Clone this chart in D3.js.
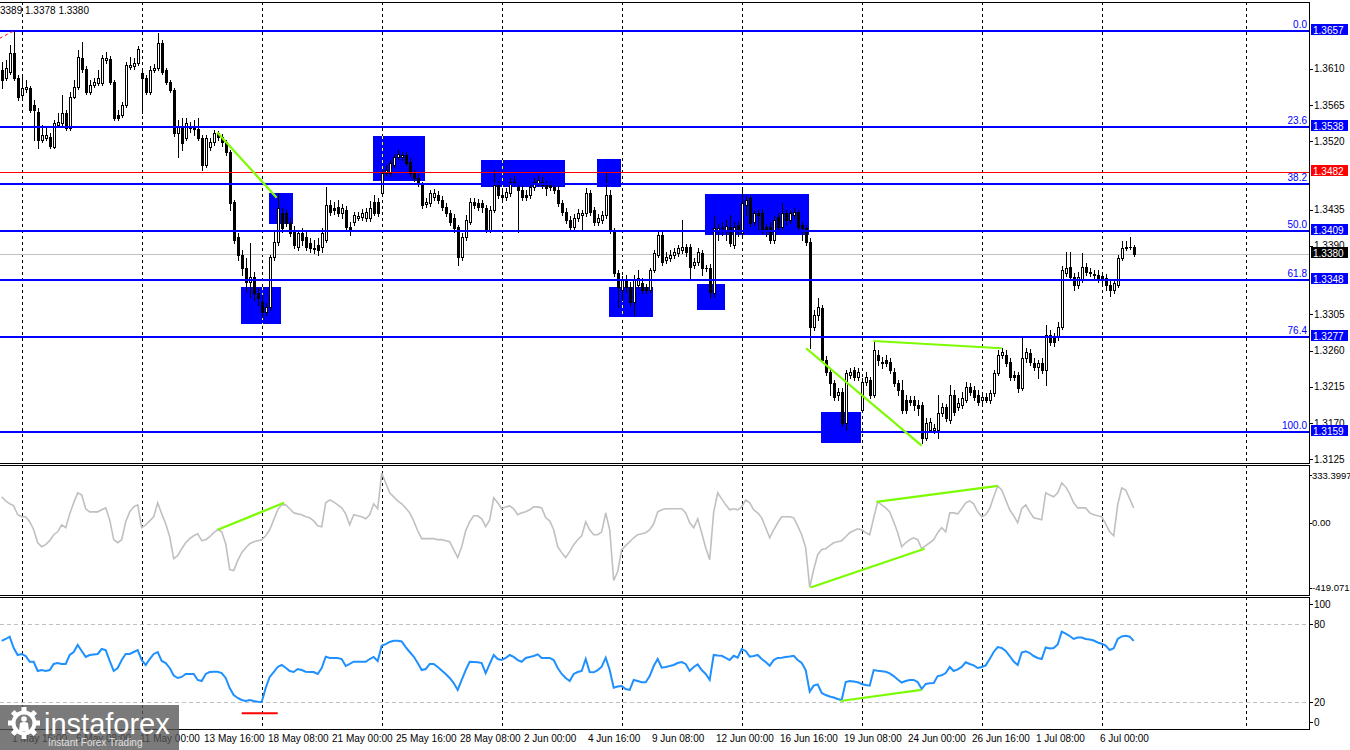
<!DOCTYPE html>
<html>
<head>
<meta charset="utf-8">
<script src="https://cdn.jsdelivr.net/npm/d3@7/dist/d3.min.js"></script>
<style>
html,body{margin:0;padding:0;background:#fff;overflow:hidden;}
svg{display:block;}
text{font-family:"Liberation Sans",Arial,sans-serif;}
</style>
</head>
<body>
<svg id="chart" width="1350" height="750"></svg>
<script>
// ---------------- DATA ----------------
const open = [
1.3609,1.3599,1.3606,1.3630,1.3599,1.3578,1.3585,1.3586,1.3565,1.3556,
1.3522,1.3524,1.3525,1.3513,1.3540,1.3543,1.3555,1.3537,1.3575,1.3587,
1.3623,1.3610,1.3581,1.3590,1.3592,1.3592,1.3621,1.3622,1.3594,1.3553,
1.3553,1.3565,1.3612,1.3614,1.3617,1.3605,1.3599,1.3581,1.3609,1.3611,
1.3642,1.3609,1.3594,1.3584,1.3530,1.3538,1.3524,1.3537,1.3537,1.3535,
1.3524,1.3491,1.3513,1.3519,1.3530,1.3525,1.3519,1.3507,1.3445,1.3401,
1.3379,1.3363,1.3345,1.3351,1.3332,1.3320,1.3308,1.3314,1.3376,1.3395,
1.3431,1.3431,1.3419,1.3410,1.3389,1.3406,1.3401,1.3394,1.3387,1.3391,
1.3389,1.3397,1.3441,1.3437,1.3438,1.3431,1.3435,1.3414,1.3420,1.3425,
1.3426,1.3425,1.3425,1.3445,1.3445,1.3456,1.3481,1.3481,1.3491,1.3500,
1.3500,1.3503,1.3494,1.3481,1.3474,1.3466,1.3442,1.3443,1.3451,1.3453,
1.3447,1.3438,1.3431,1.3425,1.3414,1.3376,1.3401,1.3420,1.3445,1.3443,
1.3443,1.3437,1.3410,1.3435,1.3466,1.3453,1.3451,1.3456,1.3469,1.3463,
1.3460,1.3453,1.3453,1.3463,1.3468,1.3469,1.3466,1.3466,1.3463,1.3460,
1.3443,1.3432,1.3422,1.3414,1.3425,1.3428,1.3431,1.3456,1.3435,1.3420,
1.3422,1.3428,1.3453,1.3410,1.3356,1.3335,1.3348,1.3339,1.3320,1.3342,
1.3344,1.3339,1.3335,1.3360,1.3379,1.3404,1.3373,1.3375,1.3379,1.3381,
1.3385,1.3389,1.3389,1.3366,1.3370,1.3381,1.3363,1.3363,1.3332,1.3410,
1.3412,1.3410,1.3414,1.3391,1.3416,1.3406,1.3441,1.3450,1.3420,1.3431,
1.3431,1.3414,1.3414,1.3397,1.3426,1.3414,1.3431,1.3422,1.3428,1.3432,
1.3416,1.3412,1.3395,1.3289,1.3304,1.3313,1.3248,1.3233,1.3220,1.3205,
1.3209,1.3170,1.3230,1.3236,1.3227,1.3186,1.3221,1.3224,1.3205,1.3255,
1.3245,1.3248,1.3246,1.3233,1.3220,1.3211,1.3199,1.3199,1.3199,1.3192,
1.3192,1.3152,1.3161,1.3161,1.3161,1.3183,1.3190,1.3174,1.3205,1.3190,
1.3192,1.3199,1.3215,1.3211,1.3205,1.3199,1.3202,1.3199,1.3207,1.3232,
1.3255,1.3255,1.3246,1.3230,1.3230,1.3214,1.3251,1.3257,1.3245,1.3240,
1.3245,1.3236,1.3279,1.3276,1.3277,1.3289,1.3356,1.3364,1.3351,1.3342,
1.3348,1.3364,1.3358,1.3355,1.3354,1.3353,1.3350,1.3342,1.3335,1.3342,
1.3375,1.3387,1.3389,1.3389];
const high = [
1.3619,1.3621,1.3640,1.3657,1.3602,1.3601,1.3596,1.3589,1.3571,1.3561,
1.3540,1.3538,1.3530,1.3546,1.3555,1.3578,1.3559,1.3581,1.3596,1.3633,
1.3643,1.3614,1.3596,1.3599,1.3609,1.3627,1.3631,1.3626,1.3596,1.3559,
1.3569,1.3619,1.3625,1.3623,1.3638,1.3609,1.3602,1.3614,1.3616,1.3655,
1.3646,1.3611,1.3596,1.3586,1.3546,1.3549,1.3549,1.3544,1.3546,1.3549,
1.3528,1.3528,1.3524,1.3534,1.3533,1.3529,1.3522,1.3509,1.3447,1.3406,
1.3385,1.3375,1.3394,1.3358,1.3338,1.3329,1.3319,1.3379,1.3407,1.3456,
1.3437,1.3435,1.3425,1.3415,1.3410,1.3412,1.3407,1.3400,1.3397,1.3400,
1.3412,1.3463,1.3447,1.3445,1.3447,1.3442,1.3440,1.3420,1.3432,1.3432,
1.3436,1.3437,1.3446,1.3453,1.3450,1.3484,1.3491,1.3497,1.3504,1.3509,
1.3507,1.3507,1.3499,1.3484,1.3479,1.3469,1.3450,1.3460,1.3461,1.3458,
1.3452,1.3443,1.3435,1.3430,1.3416,1.3406,1.3428,1.3450,1.3450,1.3448,
1.3447,1.3441,1.3440,1.3484,1.3471,1.3460,1.3462,1.3474,1.3477,1.3468,
1.3464,1.3460,1.3468,1.3474,1.3478,1.3476,1.3471,1.3469,1.3468,1.3464,
1.3447,1.3437,1.3427,1.3430,1.3436,1.3435,1.3462,1.3460,1.3438,1.3430,
1.3433,1.3482,1.3460,1.3412,1.3360,1.3353,1.3354,1.3345,1.3354,1.3360,
1.3350,1.3343,1.3363,1.3385,1.3407,1.3407,1.3382,1.3385,1.3387,1.3391,
1.3422,1.3392,1.3392,1.3375,1.3387,1.3385,1.3366,1.3368,1.3427,1.3417,
1.3420,1.3422,1.3428,1.3420,1.3421,1.3463,1.3452,1.3453,1.3435,1.3435,
1.3436,1.3417,1.3420,1.3427,1.3431,1.3443,1.3435,1.3435,1.3437,1.3435,
1.3420,1.3416,1.3400,1.3310,1.3325,1.3317,1.3253,1.3238,1.3224,1.3214,
1.3214,1.3236,1.3238,1.3240,1.3238,1.3226,1.3233,1.3227,1.3272,1.3261,
1.3252,1.3255,1.3251,1.3238,1.3224,1.3224,1.3205,1.3204,1.3204,1.3199,
1.3196,1.3176,1.3176,1.3169,1.3205,1.3195,1.3194,1.3217,1.3211,1.3201,
1.3209,1.3221,1.3220,1.3216,1.3211,1.3209,1.3207,1.3211,1.3236,1.3261,
1.3263,1.3261,1.3251,1.3235,1.3233,1.3276,1.3263,1.3262,1.3251,1.3248,
1.3251,1.3292,1.3286,1.3282,1.3296,1.3365,1.3382,1.3382,1.3356,1.3358,
1.3381,1.3369,1.3363,1.3360,1.3360,1.3358,1.3355,1.3346,1.3348,1.3379,
1.3396,1.3396,1.3401,1.3391];
const low = [
1.3586,1.3596,1.3604,1.3596,1.3571,1.3575,1.3581,1.3556,1.3522,1.3512,
1.3519,1.3522,1.3512,1.3512,1.3538,1.3540,1.3534,1.3534,1.3574,1.3585,
1.3606,1.3579,1.3579,1.3587,1.3590,1.3590,1.3617,1.3591,1.3546,1.3546,
1.3550,1.3563,1.3610,1.3610,1.3615,1.3555,1.3579,1.3579,1.3606,1.3609,
1.3604,1.3591,1.3581,1.3527,1.3500,1.3509,1.3522,1.3532,1.3528,1.3522,
1.3484,1.3488,1.3509,1.3515,1.3522,1.3514,1.3503,1.3435,1.3394,1.3373,
1.3354,1.3333,1.3327,1.3323,1.3317,1.3302,1.3304,1.3310,1.3373,1.3391,
1.3407,1.3415,1.3402,1.3387,1.3385,1.3391,1.3385,1.3382,1.3381,1.3379,
1.3382,1.3395,1.3428,1.3430,1.3427,1.3425,1.3410,1.3404,1.3416,1.3422,
1.3422,1.3421,1.3421,1.3428,1.3427,1.3452,1.3478,1.3477,1.3488,1.3498,
1.3497,1.3491,1.3477,1.3471,1.3464,1.3437,1.3438,1.3440,1.3447,1.3443,
1.3435,1.3427,1.3416,1.3407,1.3366,1.3373,1.3397,1.3417,1.3437,1.3435,
1.3432,1.3407,1.3407,1.3432,1.3450,1.3447,1.3447,1.3452,1.3464,1.3407,
1.3447,1.3447,1.3450,1.3460,1.3464,1.3462,1.3453,1.3460,1.3456,1.3440,
1.3428,1.3419,1.3410,1.3410,1.3421,1.3410,1.3427,1.3428,1.3416,1.3416,
1.3419,1.3425,1.3406,1.3353,1.3314,1.3323,1.3333,1.3315,1.3304,1.3338,
1.3332,1.3332,1.3333,1.3358,1.3376,1.3366,1.3369,1.3371,1.3375,1.3378,
1.3381,1.3378,1.3350,1.3363,1.3366,1.3354,1.3359,1.3325,1.3328,1.3397,
1.3404,1.3397,1.3390,1.3387,1.3402,1.3402,1.3428,1.3415,1.3416,1.3410,
1.3406,1.3402,1.3394,1.3394,1.3410,1.3410,1.3417,1.3419,1.3425,1.3410,
1.3397,1.3391,1.3263,1.3286,1.3298,1.3246,1.3230,1.3205,1.3199,1.3199,
1.3166,1.3161,1.3226,1.3224,1.3224,1.3184,1.3217,1.3201,1.3202,1.3242,
1.3238,1.3241,1.3232,1.3216,1.3205,1.3183,1.3183,1.3192,1.3186,1.3180,
1.3145,1.3149,1.3159,1.3158,1.3152,1.3179,1.3173,1.3170,1.3180,1.3186,
1.3189,1.3196,1.3205,1.3199,1.3192,1.3195,1.3196,1.3195,1.3204,1.3230,
1.3251,1.3241,1.3224,1.3224,1.3209,1.3211,1.3246,1.3242,1.3236,1.3226,
1.3232,1.3217,1.3267,1.3266,1.3273,1.3287,1.3353,1.3348,1.3335,1.3338,
1.3345,1.3354,1.3353,1.3350,1.3345,1.3344,1.3335,1.3328,1.3332,1.3339,
1.3373,1.3385,1.3386,1.3378];
const close = [
1.3596,1.3611,1.3630,1.3599,1.3575,1.3586,1.3587,1.3559,1.3559,1.3522,
1.3528,1.3528,1.3514,1.3543,1.3544,1.3555,1.3537,1.3575,1.3587,1.3625,
1.3610,1.3581,1.3590,1.3594,1.3599,1.3623,1.3623,1.3594,1.3549,1.3549,
1.3565,1.3615,1.3615,1.3617,1.3635,1.3599,1.3581,1.3609,1.3611,1.3642,
1.3606,1.3594,1.3584,1.3530,1.3538,1.3518,1.3543,1.3537,1.3535,1.3524,
1.3491,1.3524,1.3519,1.3530,1.3525,1.3519,1.3507,1.3443,1.3397,1.3379,
1.3363,1.3345,1.3351,1.3332,1.3325,1.3308,1.3314,1.3376,1.3395,1.3437,
1.3412,1.3419,1.3406,1.3391,1.3406,1.3397,1.3389,1.3387,1.3386,1.3385,
1.3406,1.3441,1.3432,1.3435,1.3431,1.3437,1.3414,1.3410,1.3428,1.3427,
1.3431,1.3432,1.3437,1.3431,1.3431,1.3481,1.3484,1.3493,1.3500,1.3504,
1.3503,1.3493,1.3481,1.3474,1.3468,1.3441,1.3445,1.3456,1.3456,1.3447,
1.3438,1.3431,1.3420,1.3412,1.3376,1.3401,1.3422,1.3445,1.3441,1.3438,
1.3438,1.3410,1.3435,1.3466,1.3453,1.3451,1.3457,1.3469,1.3468,1.3460,
1.3451,1.3451,1.3463,1.3469,1.3472,1.3466,1.3462,1.3463,1.3460,1.3443,
1.3432,1.3422,1.3414,1.3425,1.3431,1.3431,1.3456,1.3432,1.3420,1.3425,
1.3428,1.3453,1.3410,1.3356,1.3339,1.3348,1.3339,1.3320,1.3348,1.3350,
1.3335,1.3335,1.3360,1.3381,1.3404,1.3370,1.3376,1.3379,1.3382,1.3387,
1.3389,1.3382,1.3364,1.3370,1.3382,1.3363,1.3363,1.3333,1.3412,1.3412,
1.3412,1.3415,1.3394,1.3414,1.3410,1.3443,1.3447,1.3419,1.3431,1.3428,
1.3410,1.3410,1.3397,1.3422,1.3414,1.3431,1.3422,1.3431,1.3432,1.3414,
1.3412,1.3395,1.3289,1.3304,1.3314,1.3248,1.3233,1.3220,1.3202,1.3209,
1.3170,1.3232,1.3233,1.3227,1.3233,1.3221,1.3227,1.3205,1.3261,1.3248,
1.3246,1.3245,1.3236,1.3220,1.3211,1.3186,1.3186,1.3196,1.3192,1.3189,
1.3152,1.3170,1.3171,1.3164,1.3183,1.3190,1.3176,1.3205,1.3184,1.3195,
1.3201,1.3215,1.3209,1.3202,1.3196,1.3202,1.3199,1.3207,1.3232,1.3255,
1.3258,1.3245,1.3227,1.3227,1.3214,1.3251,1.3258,1.3246,1.3240,1.3245,
1.3236,1.3279,1.3271,1.3271,1.3289,1.3360,1.3363,1.3351,1.3342,1.3351,
1.3364,1.3358,1.3356,1.3354,1.3348,1.3348,1.3342,1.3335,1.3344,1.3375,
1.3387,1.3389,1.3389,1.3380];
const cci = [
153,129,112,100,48,36,36,7,-40,-116,
-139,-127,-104,-69,-52,-11,-28,53,118,176,
164,83,65,65,65,77,88,18,-98,-116,
-98,7,65,94,106,-28,-11,12,36,118,
53,-5,-81,-209,-192,-151,-116,-92,-75,-63,
-104,-98,-81,-57,-40,-52,-122,-273,-279,-221,
-174,-145,-122,-110,-104,-98,-75,-40,18,77,
106,106,83,59,53,48,36,30,12,-17,
-22,118,135,123,106,88,53,-11,48,42,
36,24,48,112,83,292,234,176,153,129,
112,88,59,12,-46,-92,-92,-92,-92,-98,
-98,-104,-110,-156,-203,-139,-46,7,42,42,
24,-22,18,147,118,83,94,100,83,48,
59,65,77,94,94,88,30,12,-40,-139,
-174,-203,-168,-127,-98,-75,7,-40,-69,-69,
-52,59,-40,-337,-285,-156,-133,-110,-87,-69,
-63,-57,-40,-5,65,77,83,83,83,83,
83,59,1,-28,24,-57,-145,-215,65,176,
141,106,77,83,77,94,135,118,77,59,
30,-28,-87,-40,1,36,36,36,30,-17,
-69,-145,-378,-273,-186,-156,-151,-133,-116,-110,
-104,-81,-57,-46,-34,-40,-57,-69,30,123,
106,88,65,7,-57,-139,-116,-98,-87,-98,
-151,-133,-116,-98,-57,-28,-52,59,59,53,
83,118,129,112,65,36,48,83,153,217,
193,135,77,42,1,83,106,65,30,24,
18,176,164,153,176,234,211,170,118,88,
88,88,59,48,42,36,-5,-52,-75,106,
205,193,141,88];
const rsi = [
67.2,68.7,70.5,61.8,56.4,57.2,55.6,51.2,51.2,44.1,
44.8,44.1,44.8,49.5,50.2,49.5,49.5,56.4,58.7,64.1,
59.5,54.9,56.4,56.8,57.2,61,60.2,51.8,44.1,46.4,
52.5,57.2,57.2,58.7,60.2,52.5,48.7,53.3,57.2,58.7,
51.8,50.2,46.4,40.6,38.7,39.5,41.8,41.8,41.8,37.2,
36.4,41.8,43.3,43.5,43.5,42.5,38.7,31,25.6,23.3,
21.8,21,21.8,21,20.5,20.2,31,39.5,43.3,47.2,
48.7,46.6,44.1,43.3,45.6,44.8,43.5,43.3,43.3,41.8,
46.4,55.1,54.1,54.1,54.1,53.3,47.9,49.5,51.2,51.2,
51.2,51.2,53.3,54.9,51.8,63.5,64.8,66.4,67.4,67.4,
66.8,62.5,58.7,55.2,50.2,44.8,45.6,49.5,49.5,47.2,
44.4,41.8,38.7,34.8,29.5,37.2,44.8,51.2,51,50.8,
50.2,42.5,49.5,56.4,53.3,52.5,54.1,56.4,54.9,52.5,
51.2,54.1,54.9,55.6,56.9,54.1,54.1,54.1,52.5,46.4,
41.8,38.7,36.4,41.8,43.3,44.1,53.3,43.3,43.1,44.8,
47.4,54.3,44.8,31.2,32.1,32.5,30.2,29.5,37.2,36.4,
35.4,35.4,40.2,47.9,53.3,46.6,47.2,47.9,48.7,50.2,
51,49.5,44.1,47.2,49.2,44.8,41.8,37.2,56.4,56,
55.8,54.1,52.5,55.8,54.3,61,59.5,55.1,55.6,56.4,
53.3,51,48.2,52.5,54.1,54.3,54.9,55.2,55.8,52.5,
50.2,44.8,28.2,32.8,33.8,27.2,25.6,24.5,23.7,22.5,
21.8,35.6,36.4,36,35.4,34.1,33.3,32.8,44.8,44.3,
43.9,43.5,42.2,40.2,37.5,35.2,36.4,37.2,37.2,35.6,
30.2,34.1,34.6,34.8,40.2,40.8,42.5,47.2,44.1,45.3,
47.2,50.8,49.5,48.4,46.4,47.2,48.4,53.3,58.7,62.5,
61.8,59.5,55.6,51.4,48.7,58.3,59.3,57.9,55.6,54.1,
53.3,62.2,61.4,61.8,64.5,74.3,72.9,71,68.7,69.8,
69.8,68.7,68.3,67.5,66,65,63.7,60.2,61.5,68.7,
70.6,71.2,70.5,67.2];

const fibLevels = ["0.0","23.6","38.2","50.0","61.8","76.4","100.0"];
const fibPrices = [1.3657,1.3538,1.3467,1.3409,1.3348,1.3277,1.3159];
const fibBoxed = [true,true,false,true,true,true,true];
const priceTicks = [1.3610,1.3565,1.3520,1.3435,1.3390,1.3305,1.3260,1.3215,1.3170,1.3125];
const redLevel = 1.3482;
const lastPrice = 1.3380;
const headerText = "3389 1.3378 1.3380";
const cciMax = 333.3997, cciMin = -419.0717;
const cciLabels = ["333.3997","0.00","-419.0717"];
const rsiLevels = [20, 80];
const rsiLabels = [100, 80, 20, 0];
const gridBars = [5,35,65,95,125,155,185,215,245,275,311];
const timeBars = [3,19,35,51,67,83,99,115,131,147,163,179,195,211,227,243,259,275];
const timeLabels = ["1 May 16:00","6 May 08:00","11 May 00:00","13 May 16:00","18 May 08:00","21 May 00:00","25 May 16:00","28 May 08:00","2 Jun 00:00","4 Jun 16:00","9 Jun 08:00","12 Jun 00:00","16 Jun 16:00","19 Jun 08:00","24 Jun 00:00","26 Jun 16:00","1 Jul 08:00","6 Jul 00:00"];
// zones (bar index from/to, price top/bottom)
const zoneStart = [92.8,66.8,59.8,119.8,148.8,175.8,151.8,173.8,204.8];
const zoneEnd   = [105.8,72.8,69.8,140.8,154.8,201.8,162.8,180.8,214.8];
const zoneTop   = [1.3527,1.3456,1.3339,1.3497,1.3498,1.3455,1.3339,1.3343,1.3184];
const zoneBottom= [1.3471,1.3417,1.3293,1.3463,1.3463,1.3404,1.3302,1.3310,1.3145];
// trend lines [bar1, value1, bar2, value2]
const priceTrends = [[53.9,1.3531,68.75,1.3450],[201.1,1.3263,230,1.3142],[217.9,1.3272,250,1.3263]];
const cciTrends = [[54,-40,70.6,118],[202.2,-378,230.7,-151],[218.7,123,249,217]];
const rsiTrends = [[209.7,21,229.9,29.5]];
const rsiRedMark = [[60,11.5,69,11.5]];
const fiboDiagonal = [[-0.5,1.3648,3,1.3657]];

// ---------------- LAYOUT ----------------
const svg = d3.select("#chart");
const R = 1309;               // right edge of plot area
const main = {top:2, bottom:463};
const cciP = {top:465, bottom:595};
const rsiP = {top:597, bottom:729};

const n = close.length;
const x = d3.scaleLinear().domain([0, n-1]).range([1.7, 1.7 + 4*(n-1)]);
const y = d3.scaleLinear().domain([fibPrices[6], fibPrices[0]]).range([432, 31]);
const yC = d3.scaleLinear().domain([cciMin, cciMax]).range([594.5, 466]);
const yR = d3.scaleLinear().domain([0, 100]).range([728.3, 598.3]);

const defs = svg.append("defs");
function clip(id, p){ defs.append("clipPath").attr("id",id).append("rect").attr("x",0).attr("y",p.top+1).attr("width",R).attr("height",p.bottom-p.top-1); }
clip("cm", main); clip("cc", cciP); clip("cr", rsiP);

svg.append("rect").attr("width",1350).attr("height",750).attr("fill","#fff");

const gM = svg.append("g").attr("clip-path","url(#cm)").attr("shape-rendering","crispEdges");
const gC = svg.append("g").attr("clip-path","url(#cc)");
const gR = svg.append("g").attr("clip-path","url(#cr)");

// vertical grid
[[gM,main],[gC,cciP],[gR,rsiP]].forEach(([g,p])=>{
  g.selectAll(null).data(gridBars).enter().append("line")
   .attr("x1",d=>Math.round(x(d))+0.5).attr("x2",d=>Math.round(x(d))+0.5)
   .attr("y1",p.top).attr("y2",p.bottom)
   .attr("stroke","#000").attr("stroke-width",1).attr("stroke-dasharray","3,3")
   .attr("shape-rendering","crispEdges");
});

// zones
const zoneIdx = d3.range(zoneStart.length);
gM.selectAll(null).data(zoneIdx).enter().append("rect")
  .attr("x",i=>Math.round(x(zoneStart[i])))
  .attr("width",i=>Math.round(x(zoneEnd[i]))-Math.round(x(zoneStart[i])))
  .attr("y",i=>Math.round(y(zoneTop[i])))
  .attr("height",i=>Math.round(y(zoneBottom[i]))-Math.round(y(zoneTop[i])))
  .attr("fill","#0000ff");
zoneIdx.forEach(i=>{
  gridBars.filter(b=>b>zoneStart[i] && b<zoneEnd[i]).forEach(b=>{
    gM.append("line").attr("x1",Math.round(x(b))+0.5).attr("x2",Math.round(x(b))+0.5)
      .attr("y1",Math.round(y(zoneTop[i]))).attr("y2",Math.round(y(zoneBottom[i])))
      .attr("stroke","#ffff00").attr("stroke-dasharray","3,3");
  });
});

// bid line
gM.append("line").attr("x1",0).attr("x2",R).attr("y1",Math.round(y(lastPrice))+0.5).attr("y2",Math.round(y(lastPrice))+0.5).attr("stroke","#c0c0c0");

// candles
const bars = d3.range(n);
const cg = gM.append("g");
cg.selectAll(null).data(bars).enter().append("line")
  .attr("x1",i=>Math.round(x(i))+0.5).attr("x2",i=>Math.round(x(i))+0.5)
  .attr("y1",i=>Math.round(y(high[i]))).attr("y2",i=>Math.round(y(low[i]))+1)
  .attr("stroke","#000");
cg.selectAll(null).data(bars).enter().append("rect")
  .each(function(i){
    const cx = Math.round(x(i));
    const t = Math.round(y(Math.max(open[i],close[i])));
    const b = Math.round(y(Math.min(open[i],close[i])));
    const s = d3.select(this);
    if (close[i] > open[i]) {
      s.attr("x",cx-0.5).attr("y",t+0.5).attr("width",2).attr("height",Math.max(0,b-t))
       .attr("fill","#fff").attr("stroke","#000").attr("stroke-width",1);
    } else {
      s.attr("x",cx-1).attr("y",t).attr("width",3).attr("height",Math.max(1,b-t+1)).attr("fill","#000");
    }
  });

// fibo lines
gM.append("line").attr("x1",0).attr("x2",R).attr("y1",Math.round(y(redLevel))+0.5).attr("y2",Math.round(y(redLevel))+0.5).attr("stroke","#ff0000");
gM.selectAll(null).data(fibPrices).enter().append("line")
  .attr("x1",0).attr("x2",R).attr("y1",d=>Math.round(y(d))).attr("y2",d=>Math.round(y(d)))
  .attr("stroke","#0000ff").attr("stroke-width",2);
gM.selectAll(null).data(fibLevels).enter().append("text")
  .attr("x",R-2).attr("y",(d,i)=>Math.round(y(fibPrices[i]))-3)
  .attr("text-anchor","end").attr("font-size",10).attr("fill","#0000ff").text(d=>d);
gM.selectAll(null).data(fiboDiagonal).enter().append("line")
  .attr("x1",d=>x(d[0])).attr("y1",d=>y(d[1])).attr("x2",d=>x(d[2])).attr("y2",d=>y(d[3]))
  .attr("stroke","#ff0000").attr("stroke-dasharray","3,3").attr("shape-rendering","auto");

// green trend lines
const green = "#7cfc00";
gM.selectAll(null).data(priceTrends).enter().append("line")
  .attr("x1",d=>x(d[0])).attr("y1",d=>y(d[1])).attr("x2",d=>x(d[2])).attr("y2",d=>y(d[3]))
  .attr("stroke",green).attr("stroke-width",2.2).attr("shape-rendering","auto");

// header
svg.append("text").attr("x",0).attr("y",14).attr("font-size",10).attr("fill","#000").text(headerText);

// CCI
gC.append("path").datum(cci)
  .attr("d",d3.line().x((d,i)=>x(i)).y(d=>yC(d)))
  .attr("fill","none").attr("stroke","#c0c0c0").attr("stroke-width",1.6);
gC.selectAll(null).data(cciTrends).enter().append("line")
  .attr("x1",d=>x(d[0])).attr("y1",d=>yC(d[1])).attr("x2",d=>x(d[2])).attr("y2",d=>yC(d[3]))
  .attr("stroke",green).attr("stroke-width",2.2);

// RSI
gR.selectAll(null).data(rsiLevels).enter().append("line")
  .attr("x1",0).attr("x2",R).attr("y1",d=>Math.round(yR(d))+0.5).attr("y2",d=>Math.round(yR(d))+0.5)
  .attr("stroke","#c0c0c0").attr("stroke-dasharray","4,3").attr("shape-rendering","crispEdges");
gR.append("path").datum(rsi)
  .attr("d",d3.line().x((d,i)=>x(i)).y(d=>yR(d)))
  .attr("fill","none").attr("stroke","#1e90ff").attr("stroke-width",2);
gR.selectAll(null).data(rsiTrends).enter().append("line")
  .attr("x1",d=>x(d[0])).attr("y1",d=>yR(d[1])).attr("x2",d=>x(d[2])).attr("y2",d=>yR(d[3]))
  .attr("stroke",green).attr("stroke-width",2.2);
gR.selectAll(null).data(rsiRedMark).enter().append("line")
  .attr("x1",d=>x(d[0])).attr("y1",d=>yR(d[1])).attr("x2",d=>x(d[2])).attr("y2",d=>yR(d[3]))
  .attr("stroke","#ff0000").attr("stroke-width",2);

// panel borders
const bd = svg.append("g").attr("stroke","#000").attr("shape-rendering","crispEdges").attr("fill","none");
[main,cciP,rsiP].forEach(p=>{
  bd.append("path").attr("d",`M0,${p.top+0.5}H${R+0.5}V${p.bottom+0.5}H0`);
});

// right price axis
const ax = svg.append("g").attr("font-size",10);
ax.selectAll(null).data(priceTicks).enter().append("line")
  .attr("x1",R+1).attr("x2",R+4).attr("y1",d=>Math.round(y(d))+0.5).attr("y2",d=>Math.round(y(d))+0.5)
  .attr("stroke","#000").attr("shape-rendering","crispEdges");
ax.selectAll(null).data(priceTicks).enter().append("text")
  .attr("x",R+5).attr("y",d=>y(d)+3.5).attr("fill","#000").text(d=>d.toFixed(4));
function box(price, fill, txt){
  const yy = Math.round(y(price));
  ax.append("rect").attr("x",R+2).attr("y",yy-7).attr("width",37).attr("height",11).attr("fill",fill);
  ax.append("text").attr("x",R+4).attr("y",yy+2.5).attr("fill","#fff").text(txt);
}
fibPrices.forEach((p,i)=>{ if(fibBoxed[i]) box(p,"#0000ff",p.toFixed(4)); });
box(redLevel,"#ff0000",redLevel.toFixed(4));
box(lastPrice,"#000000",lastPrice.toFixed(4));

// CCI axis
[cciMax,0,cciMin].forEach((v,i)=>{
  const yy = i===0 ? yC(v)+9 : (i===2 ? yC(v)-7 : yC(v));
  ax.append("line").attr("x1",R+1).attr("x2",R+3).attr("y1",Math.round(yy)+0.5).attr("y2",Math.round(yy)+0.5).attr("stroke","#000");
  ax.append("text").attr("x",R+3).attr("y",yy+3.5).attr("font-size",9.5).text(cciLabels[i]);
});
// RSI axis
rsiLabels.forEach(v=>{
  let yy = yR(v);
  if (v===100) yy += 6; if (v===0) yy -= 6;
  ax.append("line").attr("x1",R+1).attr("x2",R+4).attr("y1",Math.round(yy)+0.5).attr("y2",Math.round(yy)+0.5).attr("stroke","#000");
  ax.append("text").attr("x",R+5).attr("y",yy+3.5).text(v);
});

// time axis
const tg = svg.append("g").attr("font-size",10);
tg.selectAll(null).data(timeBars).enter().append("text")
  .attr("x",d=>x(d)-1.7).attr("y",742).attr("fill","#000").text((d,i)=>timeLabels[i]);

// logo overlay
const lg = svg.append("g");
lg.append("rect").attr("x",0).attr("y",705).attr("width",179).attr("height",45).attr("fill","#555").attr("opacity",0.78);
const gc = {x:24, y:723};
for(let k=0;k<8;k++){
  lg.append("rect").attr("x",gc.x-2.5).attr("y",gc.y-16).attr("width",5).attr("height",6)
    .attr("fill","#fff").attr("transform",`rotate(${k*45},${gc.x},${gc.y})`);
}
lg.append("circle").attr("cx",gc.x).attr("cy",gc.y).attr("r",10.5).attr("fill","none").attr("stroke","#fff").attr("stroke-width",4);
lg.append("circle").attr("cx",gc.x).attr("cy",gc.y-4).attr("r",2.8).attr("fill","#fff");
lg.append("path").attr("d",`M${gc.x-5},${gc.y+8} L${gc.x-4},${gc.y} Q${gc.x},${gc.y-2} ${gc.x+4},${gc.y} L${gc.x+5},${gc.y+8} Z`).attr("fill","#fff");
lg.append("text").attr("x",44).attr("y",734).attr("font-size",29).attr("fill","#fff").text("instaforex");
lg.append("text").attr("x",48).attr("y",746).attr("font-size",10).attr("fill","#e0e0e0").text("Instant Forex Trading");
</script>
</body>
</html>
